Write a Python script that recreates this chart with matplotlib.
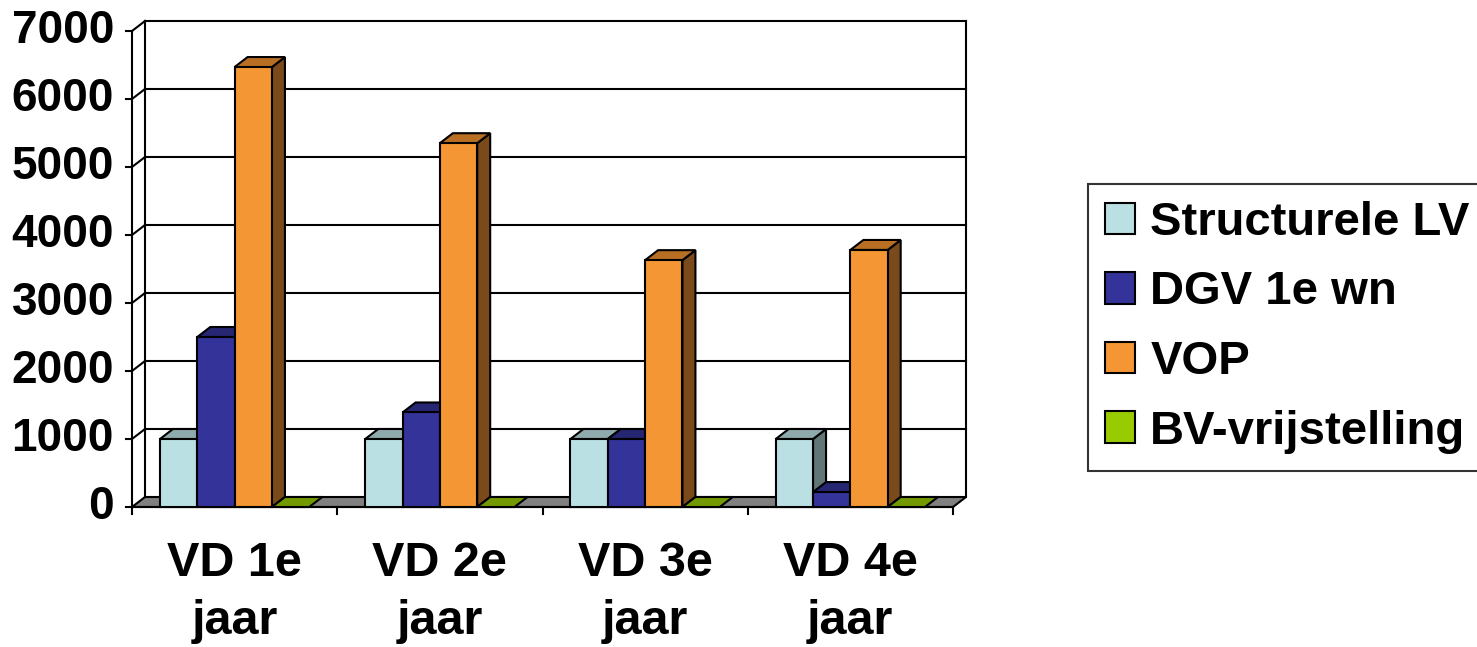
import matplotlib
matplotlib.use("Agg")
import matplotlib.pyplot as plt
from matplotlib.patches import Polygon, Patch

plt.rcParams['font.family'] = ['Liberation Sans', 'DejaVu Sans']
plt.rcParams['font.weight'] = 'bold'

categories = ["VD 1e\njaar", "VD 2e\njaar", "VD 3e\njaar", "VD 4e\njaar"]
series_names = ["Structurele LV", "DGV 1e wn", "VOP", "BV-vrijstelling"]
structurele_lv = [1000, 1000, 1000, 1000]
dgv_1e_wn = [2500, 1390, 1000, 220]
vop = [6470, 5350, 3630, 3780]
bv_vrijstelling = [0, 0, 0, 0]
y_ticks = [0, 1000, 2000, 3000, 4000, 5000, 6000, 7000]

series = [structurele_lv, dgv_1e_wn, vop, bv_vrijstelling]
front_cols = ["#BBE0E3", "#333399", "#F39633", "#99CC00"]
top_cols = ["#8FAAAD", "#262673", "#B86F24", "#739900"]
side_cols = ["#617677", "#1A1A4D", "#7A4A1A", "#4D6600"]

W, H = 1477, 647
fig = plt.figure(figsize=(W / 100, H / 100), dpi=100)
ax_l, ax_r, ax_t, ax_b = 132, 953, 31, 507
ax = fig.add_axes([ax_l / W, 1 - ax_b / H, (ax_r - ax_l) / W, (ax_b - ax_t) / H])
n = len(categories)
ymax = y_ticks[-1]
ax.set_xlim(0, n)
ax.set_ylim(0, ymax)
ax.axis('off')

px_x = (ax_r - ax_l) / n          # pixels per category
px_y = (ax_b - ax_t) / ymax       # pixels per value unit
DX = 13 / px_x
DY = 10 / px_y
lw = 1.5
k = dict(clip_on=False)

# floor
ax.add_patch(Polygon([(0, 0), (DX, DY), (n + DX, DY), (n, 0)], closed=True,
                     facecolor="#808080", edgecolor="black", lw=lw, zorder=1, **k))
# back wall outline and gridlines
for v in y_ticks[1:]:
    ax.plot([DX, n + DX], [v + DY, v + DY], color="black", lw=lw, zorder=1, **k)
    ax.plot([0, DX], [v, v + DY], color="black", lw=lw, zorder=1, **k)
ax.plot([DX, DX], [DY, ymax + DY], color="black", lw=lw, zorder=1, **k)
ax.plot([n + DX, n + DX], [DY, ymax + DY], color="black", lw=lw, zorder=1, **k)
# front value axis
ax.plot([0, 0], [0, ymax], color="black", lw=lw, zorder=1, **k)
tick_len_x = 6 / px_x
for v in y_ticks:
    ax.plot([-tick_len_x, 0], [v, v], color="black", lw=lw, zorder=1, **k)
    ax.text(-18 / px_x, v, str(v), ha="right", va="center", fontsize=33,
            fontweight="bold")
# category axis
ax.plot([0, n], [0, 0], color="black", lw=lw, zorder=1, **k)
for i in range(n + 1):
    ax.plot([i, i], [0, -7 / px_y], color="black", lw=lw, zorder=1, **k)
for i, c in enumerate(categories):
    ax.text(i + 0.5, -34 / px_y, c, ha="center", va="top", fontsize=35,
            fontweight="bold", linespacing=1.38)

# bars
bw = 1 / 5.5
z = 2
for i in range(n):
    for j, s in enumerate(series):
        v = s[i]
        xl = i + 0.75 * bw + j * bw
        xr = xl + bw
        if v > 0:
            ax.add_patch(Polygon([(xr, 0), (xr, v), (xr + DX, v + DY), (xr + DX, DY)],
                                 closed=True, facecolor=side_cols[j], edgecolor="black",
                                 lw=lw, zorder=z, **k))
        ax.add_patch(Polygon([(xl, v), (xl + DX, v + DY), (xr + DX, v + DY), (xr, v)],
                             closed=True, facecolor=top_cols[j], edgecolor="black",
                             lw=lw, zorder=z, **k))
        if v > 0:
            ax.add_patch(Polygon([(xl, 0), (xl, v), (xr, v), (xr, 0)], closed=True,
                                 facecolor=front_cols[j], edgecolor="black", lw=lw,
                                 zorder=z, **k))
        z += 1

handles = [Patch(facecolor=front_cols[j], edgecolor="black", lw=1.5) for j in range(4)]
leg = fig.legend(handles, series_names, loc="upper left",
                 bbox_to_anchor=(1088 / W, 1 - 184 / H), fontsize=34,
                 frameon=True, fancybox=False, edgecolor="black",
                 handlelength=0.64, handleheight=0.64, handletextpad=0.32,
                 labelspacing=0.54, borderpad=0.36, borderaxespad=0)
leg.get_frame().set_linewidth(1.5)
for t in leg.get_texts():
    t.set_fontweight("bold")

fig.savefig("out.png", dpi=100)
